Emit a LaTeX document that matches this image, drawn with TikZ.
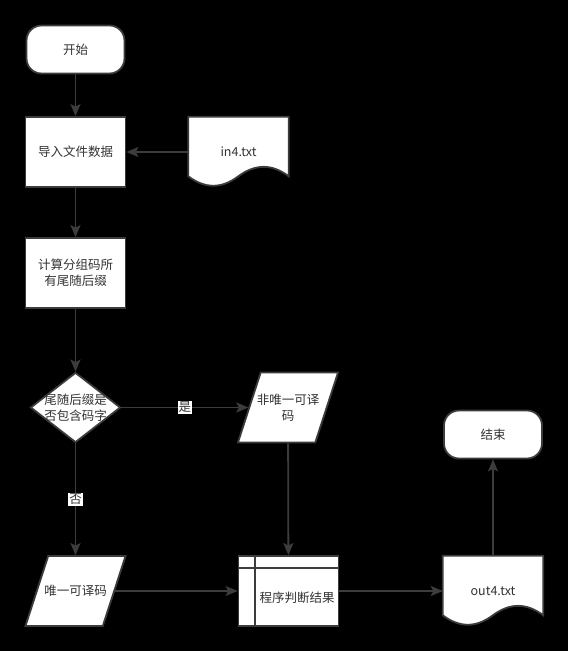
\documentclass[tikz,border=0pt]{standalone}
\usepackage{fontspec}
\newfontfamily\cjk{Noto Sans CJK SC}
\usepackage{tikz}
\usetikzlibrary{arrows.meta}
\usetikzlibrary{shapes.geometric}
\usetikzlibrary{backgrounds}
\pgfdeclarelayer{canvas}
\pgfsetlayers{canvas,background,main}
\definecolor{strokecol}{HTML}{3C3C3C}
\definecolor{textcol}{HTML}{333333}
\tikzset{
  txt/.style={font=\cjk\fontsize{12.5bp}{16bp}\selectfont, text=textcol, align=center, inner sep=0pt},
  shapebox/.style={txt, draw=strokecol, fill=white, line width=1.8bp},
  terminal/.style={shapebox, rectangle, rounded corners=15bp, minimum width=98bp, minimum height=48bp},
  procbox/.style={shapebox, rectangle, minimum width=100bp, minimum height=70bp},
  decide/.style={shapebox, diamond, minimum width=90bp, minimum height=70bp},
  iobox/.style={shapebox, trapezium, trapezium left angle=72, trapezium right angle=108,
    inner xsep=27.3bp, inner ysep=35bp},
  docbox/.style={txt, rectangle, minimum width=100bp, minimum height=70bp},
  docline/.style={draw=strokecol, fill=white, line width=1.8bp},
  flow/.style={->, draw=strokecol, line width=1.8bp},
  cond/.style={txt, fill=white, inner sep=1bp},
}
% paper with a wavy lower edge, drawn under the node text
\newcommand{\docpaper}[1]{%
  \begin{pgfonlayer}{background}
  \draw [docline] (#1.north west) -- (#1.north east) -- ([yshift=-59.5bp]#1.north east)
    .. controls ([shift={(-16.7bp,-46.9bp)}]#1.north east) and ([shift={(-33.3bp,-46.9bp)}]#1.north east) .. ([shift={(50bp,-59.5bp)}]#1.north west)
    .. controls ([shift={(33.3bp,-72.1bp)}]#1.north west) and ([shift={(16.7bp,-72.1bp)}]#1.north west) .. ([yshift=-59.5bp]#1.north west) -- cycle;
  \end{pgfonlayer}}

\begin{document}
\begin{tikzpicture}[>={Stealth[length=12bp,width=10bp,inset=2.5bp]},line join=miter]
\useasboundingbox (0bp,0bp) rectangle (568bp,651bp);
\begin{pgfonlayer}{canvas}
  \fill [black] (0bp,0bp) rectangle (568bp,651bp);
\end{pgfonlayer}
%%
\node (start) at (75.5bp,601.5bp) [terminal] {开始};
  \node (load) at (75.5bp,499bp) [procbox] {导入文件数据};
  \node (in4) at (238.5bp,499bp) [docbox] {in4.txt};
  \node (suffix) at (75.5bp,378bp) [procbox] {计算分组码所\\有尾随后缀};
  \node (check) at (75.5bp,243.5bp) [decide] {};
  \node (checktxt) at (check) [txt] {尾随后缀是\\否包含码字};
  \node (notuniq) at (288bp,243.5bp) [iobox] {};
  \node (notuniqtxt) at (notuniq) [txt] {非唯一可译\\码};
  \node (uniq) at (75.5bp,60bp) [iobox] {};
  \node (uniqtxt) at (uniq) [txt] {唯一可译码};
  \node (judge) at (288.5bp,60bp) [procbox] {};
  \node (judgetxt) at ([shift={(8.5bp,-6.5bp)}]judge.center) [txt] {程序判断结果};
  \node (out4) at (493bp,60bp) [docbox] {out4.txt};
  \node (finish) at (493bp,216.5bp) [terminal] {结束};
  \docpaper{in4}
  \docpaper{out4}
  \draw [strokecol, line width=1.8bp] ([xshift=17bp]judge.north west) -- ([xshift=17bp]judge.south west);
  \draw [strokecol, line width=1.8bp] ([yshift=-13bp]judge.north west) -- ([yshift=-13bp]judge.north east);
%
  \draw [flow] (start) -- (load);
  \draw [flow] (in4) -- (load);
  \draw [flow] (load) -- (suffix);
  \draw [flow] (suffix) -- (check);
  \draw [flow] (check) -- node [cond] {是} (notuniq);
  \draw [flow] (check) -- node [cond] {否} (uniq);
  \draw [flow] (notuniq) -- (judge);
  \draw [flow] (uniq) -- (judge);
  \draw [flow] (judge) -- (out4);
  \draw [flow] (out4) -- (finish);
%
\end{tikzpicture}
\end{document}
